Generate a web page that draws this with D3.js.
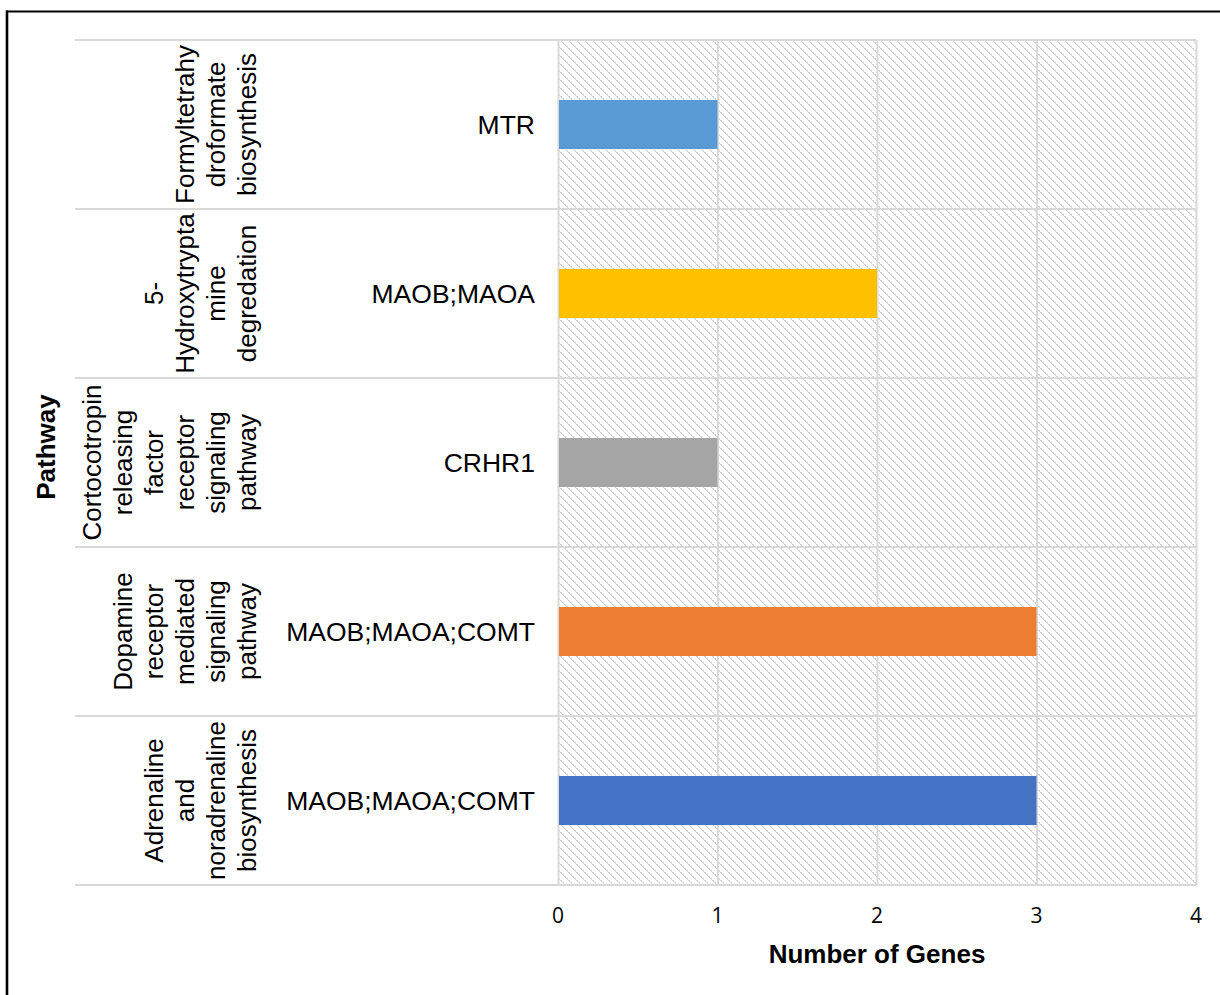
<!DOCTYPE html>
<html>
<head>
<meta charset="utf-8">
<script src="https://cdn.jsdelivr.net/npm/d3@7"></script>
<style>
  html, body { margin: 0; padding: 0; background: #fff; }
  svg { display: block; }
</style>
</head>
<body>
<svg id="chart" width="1220" height="995"></svg>
<script>
// Pathways, bottom to top as they appear on the category axis
const pathways = [
  "Adrenaline and noradrenaline biosynthesis",
  "Dopamine receptor mediated signaling pathway",
  "Cortocotropin releasing factor receptor signaling pathway",
  "5-Hydroxytryptamine degradation",
  "Formyltetrahydroformate biosynthesis"
];
// Wrapped form of each pathway label
const pathwayLines = [
  ["Adrenaline", "and", "noradrenaline", "biosynthesis"],
  ["Dopamine", "receptor", "mediated", "signaling", "pathway"],
  ["Cortocotropin", "releasing", "factor", "receptor", "signaling", "pathway"],
  ["5-", "Hydroxytrypta", "mine", "degredation"],
  ["Formyltetrahy", "droformate", "biosynthesis"]
];
const genes = ["MAOB;MAOA;COMT", "MAOB;MAOA;COMT", "CRHR1", "MAOB;MAOA", "MTR"];
const geneCounts = [3, 3, 1, 2, 1];
const barColors = ["#4472C4", "#ED7D31", "#A5A5A5", "#FFC000", "#5B9BD5"];
const xTicks = [0, 1, 2, 3, 4];
const xTitle = "Number of Genes";
const yTitle = "Pathway";

const svg = d3.select("#chart");
const sans = "'Liberation Sans', Arial, Helvetica, sans-serif";

// plot area geometry
const plot = { left: 558, right: 1196, top: 40, bottom: 885 };
const catLeft = 75;

const x = d3.scaleLinear().domain([0, 4]).range([plot.left, plot.right]);
const y = d3.scaleBand()
  .domain(pathways.slice().reverse())
  .range([plot.top, plot.bottom])
  .paddingInner(0).paddingOuter(0);
const barH = y.bandwidth() * 0.29;

// outer frame
svg.append("line").attr("x1", 6).attr("x2", 1220).attr("y1", 11.5).attr("y2", 11.5)
  .attr("stroke", "#000").attr("stroke-width", 2);
svg.append("line").attr("x1", 7).attr("x2", 7).attr("y1", 10.5).attr("y2", 995)
  .attr("stroke", "#000").attr("stroke-width", 2.6);

// light downward-diagonal hatch fill for the plot area
const defs = svg.append("defs");
const pat = defs.append("pattern")
  .attr("id", "hatch").attr("patternUnits", "userSpaceOnUse")
  .attr("width", 8).attr("height", 8);
pat.append("rect").attr("width", 8).attr("height", 8).attr("fill", "#fff");
pat.selectAll("rect.px")
  .data(d3.range(8))
  .join("rect")
  .attr("class", "px")
  .attr("x", d => d).attr("y", d => d)
  .attr("width", d => (d % 2 === 0 ? 2 : 1)).attr("height", 1)
  .attr("fill", "#d6d6d6");

svg.append("rect")
  .attr("x", plot.left).attr("y", plot.top)
  .attr("width", plot.right - plot.left).attr("height", plot.bottom - plot.top)
  .attr("fill", "url(#hatch)");

// vertical gridlines from the value axis
const xAxis = d3.axisBottom(x).tickValues(xTicks).tickSize(-(plot.bottom - plot.top)).tickFormat("");
const gx = svg.append("g").attr("transform", `translate(0,${plot.bottom})`).call(xAxis);
gx.select(".domain").remove();
gx.selectAll(".tick line").attr("stroke", "#d9d9d9").attr("stroke-width", 2);

// category separators spanning both label levels and the plot
const bounds = pathways.map(p => y(p)).concat([plot.bottom]);
svg.append("g").selectAll("line")
  .data(bounds)
  .join("line")
  .attr("x1", catLeft).attr("x2", plot.right)
  .attr("y1", d => d).attr("y2", d => d)
  .attr("stroke", "#d9d9d9").attr("stroke-width", 2);

// bars
svg.append("g").selectAll("rect")
  .data(pathways)
  .join("rect")
  .attr("x", x(0) + 1)
  .attr("y", d => y(d) + (y.bandwidth() - barH) / 2)
  .attr("width", (d, i) => x(geneCounts[i]) - x(0) - 1)
  .attr("height", barH)
  .attr("fill", (d, i) => barColors[i]);

// tick labels
svg.append("g").selectAll("text")
  .data(xTicks)
  .join("text")
  .attr("x", d => x(d)).attr("y", 923)
  .attr("text-anchor", "middle")
  .attr("font-family", "'Open Sans', sans-serif")
  .attr("font-size", 21)
  .attr("fill", "#000")
  .text(d => d);

// inner category labels: gene lists
svg.append("g").selectAll("text")
  .data(pathways)
  .join("text")
  .attr("x", 535)
  .attr("y", d => y(d) + y.bandwidth() / 2)
  .attr("dy", "0.35em")
  .attr("text-anchor", "end")
  .attr("font-family", sans)
  .attr("font-size", 26.5)
  .attr("fill", "#000")
  .text((d, i) => genes[i]);

// outer category labels: rotated, wrapped pathway names
const lineGap = 31;
const lastBaseline = 256;
const outer = svg.append("g").selectAll("g")
  .data(pathways)
  .join("g")
  .attr("transform", d => `translate(0,${y(d) + y.bandwidth() / 2})`);
outer.each(function (d, i) {
  const lines = pathwayLines[i];
  const g = d3.select(this);
  lines.forEach((ln, k) => {
    const bx = lastBaseline - (lines.length - 1 - k) * lineGap;
    g.append("text")
      .attr("transform", `translate(${bx},0) rotate(-90)`)
      .attr("text-anchor", "middle")
      .attr("font-family", sans)
      .attr("font-size", 26)
      .attr("fill", "#000")
      .text(ln);
  });
});

// axis titles
svg.append("text")
  .attr("x", (plot.left + plot.right) / 2).attr("y", 963)
  .attr("text-anchor", "middle")
  .attr("font-family", sans)
  .attr("font-weight", "bold").attr("font-size", 26)
  .attr("fill", "#000")
  .text(xTitle);

svg.append("text")
  .attr("transform", "translate(55,447) rotate(-90)")
  .attr("text-anchor", "middle")
  .attr("font-family", sans)
  .attr("font-weight", "bold").attr("font-size", 26)
  .attr("fill", "#000")
  .text(yTitle);
</script>
</body>
</html>
